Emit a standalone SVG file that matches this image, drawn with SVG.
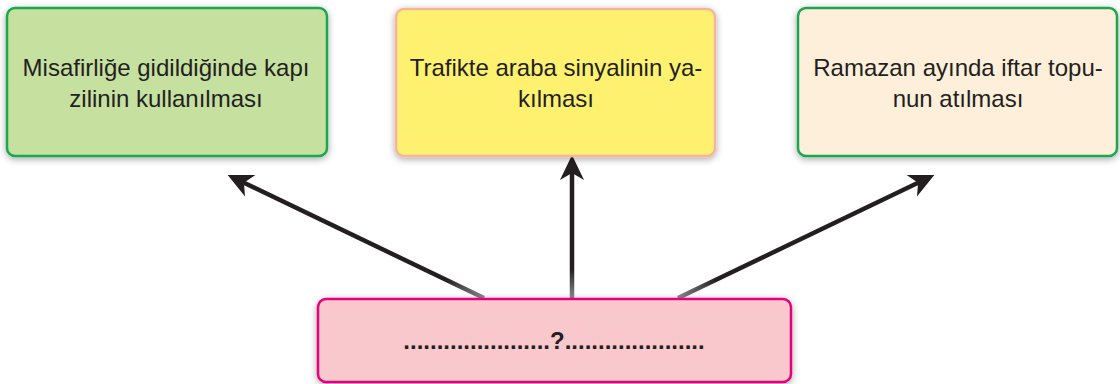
<svg xmlns="http://www.w3.org/2000/svg" width="1120" height="384" viewBox="0 0 1120 384">
<style>
.box{stroke-width:2.5;filter:url(#sh)}
.t{font-family:"Liberation Sans",Arial,sans-serif;font-size:24px;fill:#231f20;text-anchor:middle}
.q{font-family:"Liberation Sans",Arial,sans-serif;font-size:24px;font-weight:bold;fill:#231f20;text-anchor:middle}
.c{fill:none;stroke-width:4.5;marker-end:url(#ah)}
</style>
<defs>
<filter id="sh" x="-10%" y="-15%" width="120%" height="135%">
<feDropShadow dx="0" dy="2" stdDeviation="3.5" flood-color="#000" flood-opacity="0.35"/>
</filter>
<marker id="ah" markerUnits="userSpaceOnUse" viewBox="-26 -13 28 26" refX="-7" refY="0" markerWidth="28" markerHeight="26" orient="auto">
<path d="M0,0 L-25,-12 L-18,0 L-25,12 Z" fill="#231f20"/>
</marker>
<linearGradient id="g1" gradientUnits="userSpaceOnUse" x1="484" y1="298" x2="228" y2="175">
<stop offset="0" stop-color="#8a8a8a"/><stop offset="0.15" stop-color="#231f20"/><stop offset="1" stop-color="#231f20"/>
</linearGradient>
<linearGradient id="g2" gradientUnits="userSpaceOnUse" x1="572" y1="298" x2="572" y2="155">
<stop offset="0" stop-color="#8a8a8a"/><stop offset="0.2" stop-color="#231f20"/><stop offset="1" stop-color="#231f20"/>
</linearGradient>
<linearGradient id="g3" gradientUnits="userSpaceOnUse" x1="678" y1="298" x2="934" y2="175">
<stop offset="0" stop-color="#8a8a8a"/><stop offset="0.15" stop-color="#231f20"/><stop offset="1" stop-color="#231f20"/>
</linearGradient>
</defs>
<rect width="1120" height="384" fill="#fff"/>
<g id="connectors">
<path class="c" stroke="url(#g1)" d="M484,298 L234,178"/>
<path class="c" stroke="url(#g2)" d="M572,298 L572,162"/>
<path class="c" stroke="url(#g3)" d="M678,298 L928,178"/>
</g>
<g id="n1">
<rect class="box" x="7" y="8" width="320" height="148" rx="8" fill="#c6e0a0" stroke="#1aa64f"/>
<text class="t" x="166" y="76">Misafirliğe gidildiğinde kapı</text>
<text class="t" x="166" y="107">zilinin kullanılması</text>
</g>
<g id="n2">
<rect class="box" x="396" y="9" width="319" height="147" rx="8" fill="#fff170" stroke="#f5b59c"/>
<text class="t" x="556" y="76">Trafikte araba sinyalinin ya-</text>
<text class="t" x="556" y="107">kılması</text>
</g>
<g id="n3">
<rect class="box" x="798" y="8" width="319" height="148" rx="8" fill="#fdefd9" stroke="#1aa64f"/>
<text class="t" x="958" y="76">Ramazan ayında iftar topu-</text>
<text class="t" x="958" y="107">nun atılması</text>
</g>
<g id="n4">
<rect class="box" x="318" y="299" width="473" height="83" rx="8" fill="#f8c8cc" stroke="#e6007e"/>
<text class="q" x="554" y="349">......................?.....................</text>
</g>
</svg>
